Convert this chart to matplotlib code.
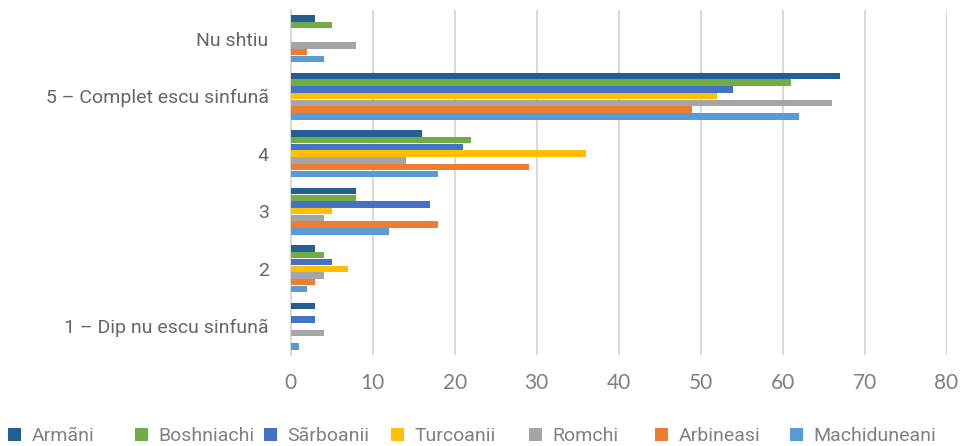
import matplotlib.pyplot as plt
import numpy as np

plt.rcParams['font.family'] = ['Roboto', 'DejaVu Sans']

categories = ["Nu shtiu", "5 – Complet escu sinfunã", "4", "3", "2", "1 – Dip nu escu sinfunã"]
series_names = ["Armãni", "Boshniachi", "Sãrboanii", "Turcoanii", "Romchi", "Arbineasi", "Machiduneani"]
armani = [3, 67, 16, 8, 3, 3]
boshniachi = [5, 61, 22, 8, 4, 0]
sarboanii = [0, 54, 21, 17, 5, 3]
turcoanii = [0, 52, 36, 5, 7, 0]
romchi = [8, 66, 14, 4, 4, 4]
arbineasi = [2, 49, 29, 18, 3, 0]
machiduneani = [4, 62, 18, 12, 2, 1]
colors = ["#255E91", "#70AD47", "#4472C4", "#FFC000", "#A5A5A5", "#ED7D31", "#5B9BD5"]

series = [armani, boshniachi, sarboanii, turcoanii, romchi, arbineasi, machiduneani]

fig = plt.figure(figsize=(9.6, 4.46), dpi=100)
ax = fig.add_axes([0.303, 0.204, 0.683, 0.774])

n = len(series)
bar_h = 0.117
y = np.arange(len(categories))
handles = []
for i, (vals, name, c) in enumerate(zip(series, series_names, colors)):
    offs = (i - (n - 1) / 2) * bar_h
    b = ax.barh(y + offs, vals, height=bar_h * 0.95, color=c, label=name, zorder=3)
    handles.append(b)

ax.set_ylim(len(categories) - 0.5, -0.5)
ax.set_xlim(0, 80)
ax.set_xticks(range(0, 81, 10))
ax.set_yticks(y)
ax.set_yticklabels(categories, fontsize=14, color="#666666")
ax.set_xticklabels([str(v) for v in range(0, 81, 10)], fontsize=15, family="Lato", color="#7f7f7f")
ax.grid(axis="x", color="#d9d9d9", linewidth=1.5, zorder=0)
for s in ["top", "right", "bottom"]:
    ax.spines[s].set_visible(False)
ax.spines["left"].set_color("#d9d9d9")
ax.spines["left"].set_linewidth(1.5)
ax.tick_params(axis="both", length=0)
ax.tick_params(axis="x", pad=13)
ax.tick_params(axis="y", pad=16)

# legend entries placed one by one, like the spread-out Excel legend
legend_x = [8, 135, 264, 391, 529, 655, 790]
for h, name, lx in zip(handles, series_names, legend_x):
    leg = fig.legend([h], [name], loc="center left", bbox_to_anchor=((lx - 6) / 960, 10 / 446),
                     frameon=False, labelcolor="#808080", handlelength=0.68,
                     handleheight=0.68, handletextpad=0.55, borderaxespad=0, borderpad=0.3,
                     prop={"size": 14})

fig.savefig("out.png", dpi=100)
